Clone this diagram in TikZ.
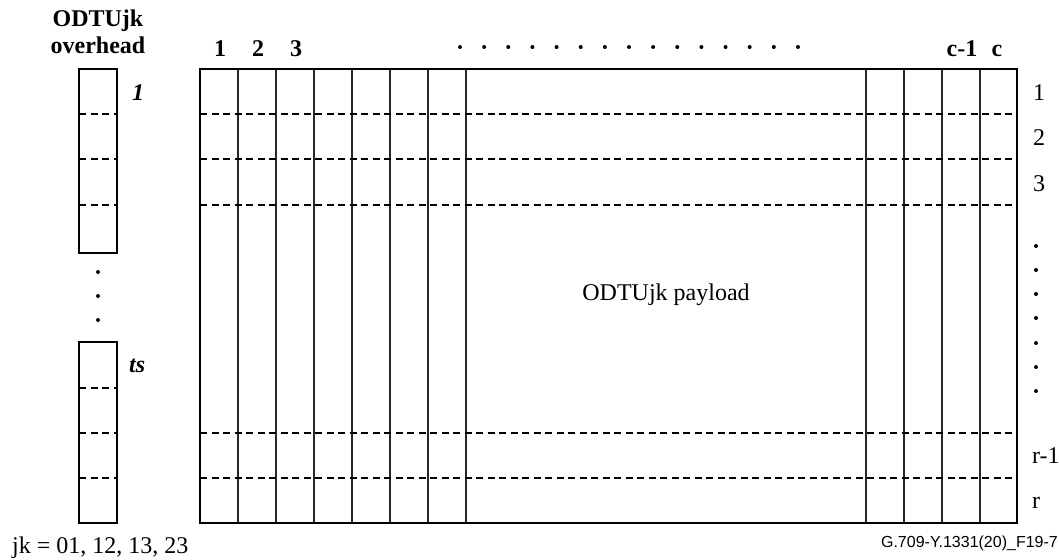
\documentclass[tikz,border=0pt]{standalone}
\usepackage{fontspec}
\setmainfont{Liberation Serif}
\newfontfamily\arialfont{Liberation Sans}
\begin{document}
\begin{tikzpicture}[x=1pt,y=-1pt,
  frame/.style={line width=2.8pt},
  col/.style={line width=1.3pt, draw=black!85},
  rowsep/.style={line width=1.1pt, dash pattern=on 7pt off 4.5pt},
  lbl/.style={inner sep=0pt, font=\fontsize{24}{28}\selectfont},
  blbl/.style={inner sep=0pt, font=\fontsize{24}{28}\selectfont\bfseries},
  dotmark/.style={fill=black, draw=none}]
\useasboundingbox (0,0) rectangle (1059,559);
% main grid
\foreach \x in {238,276,314,352,390,428,466,866,904,942,980}
  \draw[col] (\x,69) -- (\x,523);
\foreach \y in {114,159,205,433,478}
  \draw[rowsep] (200,\y) -- (1017,\y);
\draw[frame] (200,69) rectangle (1017,523);
% left overhead columns
\foreach \y in {114,159,205}
  \draw[rowsep] (79,\y) -- (117,\y);
\draw[frame] (79,69) rectangle (117,253);
\foreach \y in {388,433,478}
  \draw[rowsep] (79,\y) -- (117,\y);
\draw[frame] (79,342) rectangle (117,523);
% dots
\foreach \y in {272,296,320}
  \fill[dotmark] (98,\y) circle (2);
\foreach \i in {0,...,14}
  \fill[dotmark] ({460+24.14*\i},47) circle (2);
\foreach \y in {246,270,294,318,343,367,391}
  \fill[dotmark] (1036,\y) circle (2);
% texts
\node[blbl, anchor=base] (oh1) at (98,27) {ODTUjk};
\node[blbl, anchor=base] (oh2) at (98,54) {overhead};
\node[blbl, anchor=base] (c1) at (220,57) {1};
\node[blbl, anchor=base] (c2) at (258,57) {2};
\node[blbl, anchor=base] (c3) at (296,57) {3};
\node[blbl, anchor=base] (cc1) at (962,57) {c-1};
\node[blbl, anchor=base] (cc) at (997,57) {c};
\node[blbl, anchor=base west, font=\fontsize{24}{28}\selectfont\bfseries\itshape] (ts1) at (132,101) {1};
\node[blbl, anchor=base west, font=\fontsize{24}{28}\selectfont\bfseries\itshape] (tsn) at (129,372) {ts};
\node[lbl, anchor=base west] (r1) at (1033,101) {1};
\node[lbl, anchor=base west] (r2) at (1033,146) {2};
\node[lbl, anchor=base west] (r3) at (1033,191) {3};
\node[lbl, anchor=base west] (rr1) at (1032,463) {r-1};
\node[lbl, anchor=base west] (rr) at (1032,508) {r};
\node[lbl] (pay) at (666,295) {ODTUjk payload};
\node[lbl, anchor=base west] (jk) at (12,553) {jk = 01, 12, 13, 23};
\node[inner sep=0pt, anchor=base east, font=\arialfont\fontsize{16}{19}\selectfont] (fig) at (1058,547) {G.709-Y.1331(20)\_F19-7};
\end{tikzpicture}
\end{document}
